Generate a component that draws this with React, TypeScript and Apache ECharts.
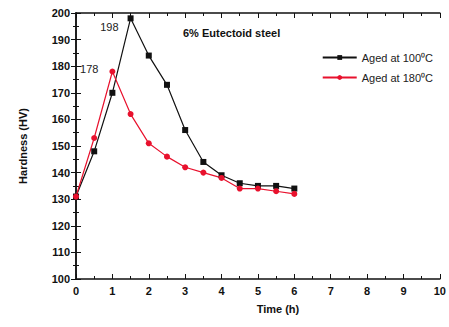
import React, { useEffect, useRef } from "react";
import * as echarts from "echarts";

const times = [0, 0.5, 1, 1.5, 2, 2.5, 3, 3.5, 4, 4.5, 5, 5.5, 6];
const aged100 = [131, 148, 170, 198, 184, 173, 156, 144, 139, 136, 135, 135, 134];
const aged180 = [131, 153, 178, 162, 151, 146, 142, 140, 138, 134, 134, 133, 132];
const xTicks = [0, 1, 2, 3, 4, 5, 6, 7, 8, 9, 10];
const yTicks = [100, 110, 120, 130, 140, 150, 160, 170, 180, 190, 200];

export default function App() {
  const ref = useRef<HTMLDivElement>(null);
  useEffect(() => {
    const chart = echarts.init(ref.current!, null, { renderer: "svg" });
    const font = "Arial, 'Liberation Sans', sans-serif";
    const axisCommon = {
      axisLine: { lineStyle: { color: "#111", width: 1.5 } },
      axisTick: { inside: true, length: 5, lineStyle: { color: "#111" } },
      minorTick: { show: true, splitNumber: 2, length: 3, lineStyle: { color: "#111" } },
      splitLine: { show: false },
    };
    chart.setOption({
      animation: false,
      backgroundColor: "#fff",
      grid: { left: 76, right: 4, top: 13, bottom: 48 },
      xAxis: [
        {
          type: "value", min: xTicks[0], max: xTicks[xTicks.length - 1], interval: 1,
          ...axisCommon,
          axisLabel: { color: "#111", fontSize: 11, fontWeight: "bold", fontFamily: font, margin: 6 },
          name: "Time (h)", nameLocation: "middle", nameGap: 24,
          nameTextStyle: { color: "#111", fontSize: 11, fontWeight: "bold", fontFamily: font, padding: [0, 0, 0, 40] },
        },
        {
          type: "value", position: "top", min: xTicks[0], max: xTicks[xTicks.length - 1], interval: 1,
          ...axisCommon, axisLabel: { show: false },
        },
      ],
      yAxis: [
        {
          type: "value", min: yTicks[0], max: yTicks[yTicks.length - 1], interval: 10,
          ...axisCommon,
          axisLabel: { color: "#111", fontSize: 11, fontWeight: "bold", fontFamily: font, margin: 6 },
          name: "Hardness (HV)", nameLocation: "middle", nameGap: 48,
          nameTextStyle: { color: "#111", fontSize: 11, fontWeight: "bold", fontFamily: font },
        },
        {
          type: "value", position: "right", min: yTicks[0], max: yTicks[yTicks.length - 1], interval: 10,
          ...axisCommon, axisLabel: { show: false },
        },
      ],
      title: {
        text: "6% Eutectoid steel", left: 178, top: 22,
        textStyle: { fontSize: 11, fontWeight: "bold", color: "#111", fontFamily: font },
      },
      legend: {
        right: 14, top: 50, orient: "vertical", itemGap: 9, itemWidth: 34, itemHeight: 6,
        padding: [2, 2],
        textStyle: { fontSize: 11, color: "#222", fontFamily: font },
        data: ["Aged at 100⁰C", "Aged at 180⁰C"],
      },
      series: [
        {
          name: "Aged at 100⁰C", type: "line", data: times.map((t, i) => [t, aged100[i]]),
          symbol: "rect", symbolSize: 6, itemStyle: { color: "#111" }, lineStyle: { color: "#111", width: 1.2 },
          markPoint: {
            symbol: "circle", symbolSize: 0,
            data: [{ coord: [1.5, 198], value: 198 }],
            label: { show: true, position: "left", distance: 12, offset: [0, 9], color: "#222", fontSize: 11, fontFamily: font, formatter: "{c}" },
          },
        },
        {
          name: "Aged at 180⁰C", type: "line", data: times.map((t, i) => [t, aged180[i]]),
          symbol: "circle", symbolSize: 6, itemStyle: { color: "#e8112d" }, lineStyle: { color: "#e8112d", width: 1.2 },
          markPoint: {
            symbol: "circle", symbolSize: 0,
            data: [{ coord: [1, 178], value: 178 }],
            label: { show: true, position: "left", distance: 14, offset: [0, -3], color: "#222", fontSize: 11, fontFamily: font, formatter: "{c}" },
          },
        },
      ],
    });
    return () => chart.dispose();
  }, []);
  return <div ref={ref} style={{ width: 449, height: 327, position: "absolute", left: 0, top: 0 }} />;
}
